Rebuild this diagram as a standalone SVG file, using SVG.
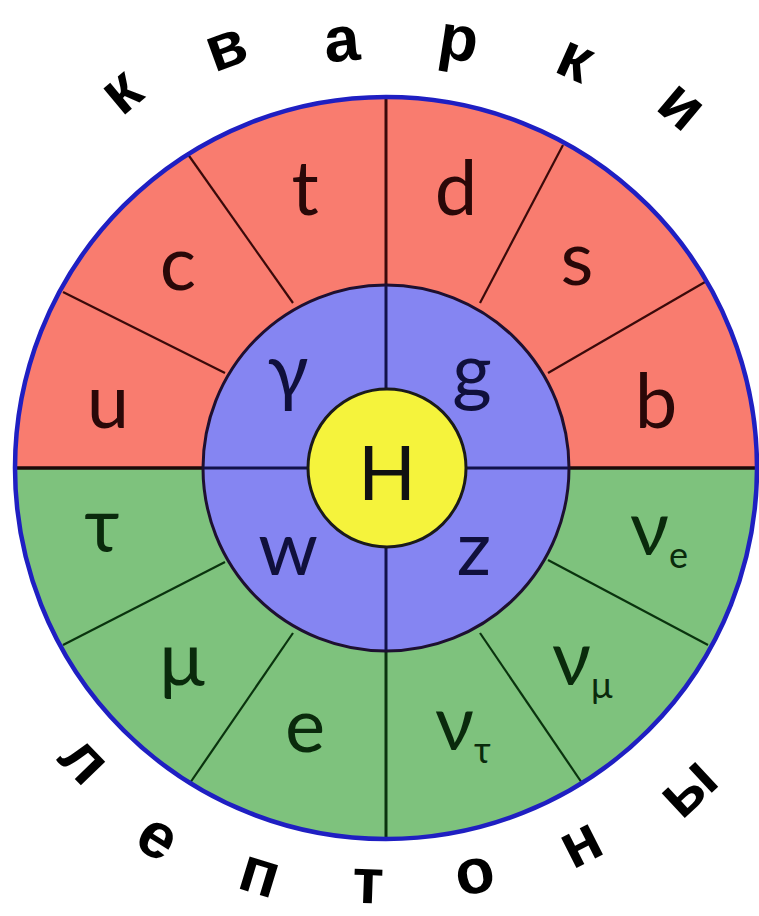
<svg xmlns="http://www.w3.org/2000/svg" width="759" height="916" viewBox="0 0 759 916">
<style>
.lbl{font-family:Lato,"Open Sans","DejaVu Sans",sans-serif;font-size:76px;text-anchor:middle}
.lbs{font-family:Lato,"Open Sans","DejaVu Sans",sans-serif;font-size:76px}
.q{fill:#2a0808}
.b{fill:#10103c}
.l{fill:#0a2a0c}
.cyr{font-family:"Liberation Sans",Arial,sans-serif;font-weight:bold;font-size:64px;text-anchor:middle;fill:#000}
.rl{stroke:#3a0a0a;stroke-width:2.2}
.gl{stroke:#0a330e;stroke-width:2.2}
.nl{stroke:#12124a;stroke-width:3}
</style>
<rect width="759" height="916" fill="#fff"/>
<g id="quarks-ring">
<path d="M14,468 A372,372 0 0 1 758,468 Z" fill="#f97c6f"/>
</g>
<g id="leptons-ring">
<path d="M14,468 A372,372 0 0 0 758,468 Z" fill="#7ec27d"/>
</g>
<g id="connectors">
<line class="rl" x1="187" y1="153" x2="293" y2="303"/>
<line class="rl" x1="63" y1="292" x2="225" y2="373"/>
<line class="rl" x1="563" y1="145" x2="480" y2="303"/>
<line class="rl" x1="705" y1="282" x2="548" y2="373"/>
<line class="gl" x1="190" y1="783" x2="293" y2="633"/>
<line class="gl" x1="63" y1="645" x2="225" y2="562"/>
<line class="gl" x1="582" y1="783" x2="480" y2="633"/>
<line class="gl" x1="708" y1="645" x2="548" y2="560"/>
<line stroke="#3a0a0a" stroke-width="3" x1="386" y1="96" x2="386" y2="290"/>
<line stroke="#0a330e" stroke-width="3" x1="386" y1="646" x2="386" y2="840"/>
<line stroke="#1a0a0a" stroke-width="3.5" x1="14" y1="468" x2="210" y2="468"/>
<line stroke="#1a0a0a" stroke-width="3.5" x1="562" y1="468" x2="758" y2="468"/>
</g>
<g id="bosons">
<circle cx="386" cy="468" r="183" fill="#8585f2" stroke="#1e1030" stroke-width="3"/>
<line class="nl" x1="386" y1="286" x2="386" y2="650"/>
<line class="nl" x1="204" y1="468" x2="568" y2="468"/>
</g>
<g id="higgs">
<circle cx="387" cy="468" r="79" fill="#f5f33c" stroke="#1a1a1a" stroke-width="3"/>
<text class="lbl" x="387" y="500" font-size="84" fill="#111">H</text>
</g>
<circle id="border" cx="386" cy="468" r="371" fill="none" stroke="#1f1fc2" stroke-width="4.5"/>
<g id="quark-labels">
<text class="lbl q" x="305" y="215">t</text>
<text class="lbl q" x="456" y="215">d</text>
<text class="lbl q" x="178" y="290">c</text>
<text class="lbl q" x="577" y="285">s</text>
<text class="lbl q" x="108" y="428">u</text>
<text class="lbl q" x="656" y="428">b</text>
</g>
<g id="boson-labels">
<text class="lbl b" x="288" y="398">γ</text>
<text class="lbl b" x="472" y="397">g</text>
<text class="lbl b" x="288" y="575">w</text>
<text class="lbl b" x="474" y="575">z</text>
</g>
<g id="lepton-labels">
<text class="lbl l" x="102" y="552">τ</text>
<text class="lbl l" x="182" y="686">μ</text>
<text class="lbl l" x="305" y="752">e</text>
<text class="lbs l" x="630" y="555">ν<tspan font-size="36" dy="13">e</tspan></text>
<text class="lbs l" x="552" y="685">ν<tspan font-size="36" dy="13">μ</tspan></text>
<text class="lbs l" x="435" y="750">ν<tspan font-size="36" dy="13">τ</tspan></text>
</g>
<g id="title-quarks">
<text class="cyr" transform="translate(123,94) rotate(-40)" y="17">к</text>
<text class="cyr" transform="translate(227,50) rotate(-20)" y="17">в</text>
<text class="cyr" font-size="60" transform="translate(342,45) rotate(-5)" y="16">а</text>
<text class="cyr" font-size="60" transform="translate(458,44) rotate(9)" y="16">р</text>
<text class="cyr" transform="translate(574,62) rotate(24)" y="17">к</text>
<text class="cyr" transform="translate(680,108) rotate(40)" y="17">и</text>
</g>
<g id="title-leptons">
<text class="cyr" transform="translate(82,762) rotate(46)" y="17">л</text>
<text class="cyr" transform="translate(156,840) rotate(32)" y="17">е</text>
<text class="cyr" transform="translate(259,877) rotate(17)" y="17">п</text>
<text class="cyr" transform="translate(368,886) rotate(2)" y="17">т</text>
<text class="cyr" transform="translate(475,876) rotate(-12)" y="17">о</text>
<text class="cyr" transform="translate(582,846) rotate(-27)" y="17">н</text>
<text class="cyr" transform="translate(690,790) rotate(-43)" y="17">ы</text>
</g>
</svg>
